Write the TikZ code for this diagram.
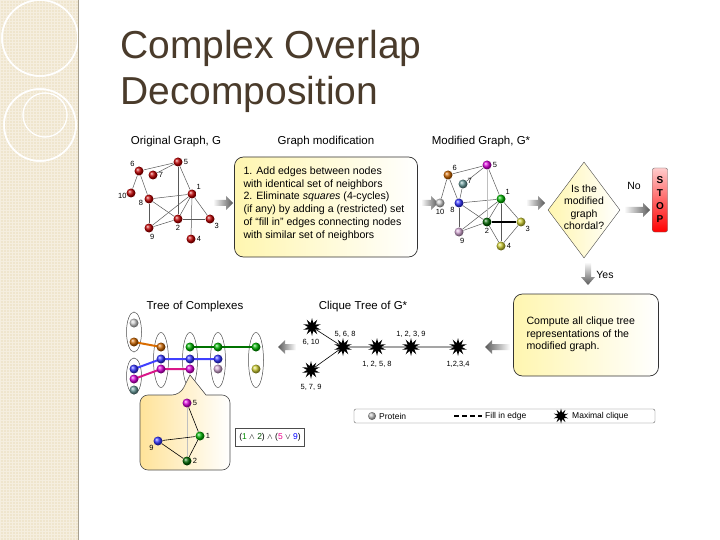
\documentclass[tikz,border=0pt]{standalone}
\usepackage{fontspec}
\setmainfont{Liberation Sans}
\usetikzlibrary{shapes.geometric,shapes.symbols,patterns}
\definecolor{titlec}{HTML}{4A3B2B}
\definecolor{stripc}{HTML}{EFE5CD}
\definecolor{boxy}{HTML}{FFF6B0}
\tikzset{
  pball/.style={circle,ball color=#1,minimum size=9pt,inner sep=0pt},
  rball/.style={pball=red!75!black},
  lab/.style={font=\fontsize{7.5}{7.5}\selectfont,inner sep=1pt},
  hd/.style={font=\fontsize{11.5}{12}\selectfont},
  txt/.style={font=\fontsize{10.6}{12.8}\selectfont,align=left},
  ge/.style={gray!70!black,line width=0.5pt},
  be/.style={black,line width=0.6pt},
  ybox/.style={draw=black!80,rounded corners=9pt,left color=boxy,right color=white,line width=0.7pt},
  clq/.style={star,star points=10,star point ratio=2.2,fill=black,minimum size=18pt,inner sep=0pt},
  elp/.style={ellipse,draw=black!70,minimum width=15pt,line width=0.5pt},
}
\newcommand{\garrowR}[3]{\shade[left color=white,right color=black!65] (#1,#2-3)--(#3-7,#2-3)--(#3-7,#2-7)--(#3,#2)--(#3-7,#2+7)--(#3-7,#2+3)--(#1,#2+3)--cycle;}
\newcommand{\garrowL}[3]{\shade[right color=white,left color=black!65] (#1,#2-3)--(#3+7,#2-3)--(#3+7,#2-7)--(#3,#2)--(#3+7,#2+7)--(#3+7,#2+3)--(#1,#2+3)--cycle;}
\begin{document}
\begin{tikzpicture}[x=1pt,y=-1pt]
\useasboundingbox (0,0) rectangle (720,540);
\fill[white] (0,0) rectangle (720,540);
% left strip
\fill[stripc] (0,0) rectangle (78,540);
\fill[pattern=grid,pattern color=white!35!stripc] (0,0) rectangle (78,540);
\begin{scope}
\clip (0,0) rectangle (78,540);
\draw[white,line width=1.5pt] (40,38) circle (38);
\draw[white,line width=1.5pt] (40,125) circle (36);
\draw[white,line width=1pt] (45,115) circle (22);
\end{scope}
\draw[white,line width=1.5pt] (40,38) circle (38);
\draw[white,line width=1.5pt] (40,125) circle (36);
\draw[white,line width=1pt] (45,115) circle (22);
\draw[stripc!70!black,line width=0.4pt] (78,0) -- (78,540);
% title
\node[anchor=base west,text=titlec,font=\fontsize{39}{42}\selectfont,inner sep=0] (t1) at (120,59) {Complex Overlap};
\node[anchor=base west,text=titlec,font=\fontsize{39}{42}\selectfont,inner sep=0] (t2) at (120,105) {Decomposition};
% headers
\node[hd] (h1) at (176,142) {Original Graph, G};
\node[hd] (h2) at (326,142) {Graph modification};
\node[hd] (h3) at (481,142) {Modified Graph, G*};
\node[hd] (h4) at (195,307) {Tree of Complexes};
\node[hd] (h5) at (363,307) {Clique Tree of G*};
% original graph
\node[rball] (o6) at (139,171) {};
\node[rball] (o5) at (178,162) {};
\node[rball] (o7) at (153,175) {};
\node[rball] (o10) at (131,193) {};
\node[rball] (o8) at (149,199) {};
\node[rball] (o1) at (192,194) {};
\node[rball] (o2) at (178,219) {};
\node[rball] (o3) at (210,219) {};
\node[rball] (o9) at (149,228) {};
\node[rball] (o4) at (191,239) {};
\foreach \a/\b in {o6/o5,o6/o10,o6/o8,o5/o7,o5/o1,o5/o2,o8/o1,o8/o2,o8/o9,o1/o2,o1/o3,o1/o9,o2/o3,o1/o4,o2/o9}
  \draw[ge] (\a) -- (\b);
\node[lab,above left] at (o6.north west) {6};
\node[lab,right] at (o5.east) {5};
\node[lab,right] at (o7.east) {7};
\node[lab,left] at (o10.south west) {10};
\node[lab,below left] at (o8.west) {8};
\node[lab,above right] at (o1.north east) {1};
\node[lab,below] at (o2.south) {2};
\node[lab,below right] at (o3.south east) {3};
\node[lab,below right] at (o9.south) {9};
\node[lab,right] at (o4.east) {4};
% box 1
\node[ybox,minimum width=183pt,minimum height=100pt] (b1) at (326,207) {};
\node[txt,anchor=north west] (b1t) at (240,163) {1. Add edges between nodes\\with identical set of neighbors\\2. Eliminate \textit{squares} (4-cycles)\\(if any) by adding a (restricted) set\\of ``fill in'' edges connecting nodes\\with similar set of neighbors};
\garrowR{213}{203}{233}
\garrowR{421}{203}{438}
% modified graph
\node[pball=orange!80!black] (m6) at (448,175) {};
\node[pball=magenta!85!black] (m5) at (487,165) {};
\node[pball=cyan!20!gray] (m7) at (463,184) {};
\node[pball=gray!40] (m10) at (440,203) {};
\node[pball=blue!80] (m8) at (459,203) {};
\node[pball=green!70!black] (m1) at (501,199) {};
\node[pball=green!40!black] (m2) at (487,222) {};
\node[pball=yellow!60!gray] (m3) at (521,222) {};
\node[pball=violet!35] (m9) at (459,232) {};
\node[pball=yellow!60!gray] (m4) at (501,246) {};
\foreach \a/\b in {m6/m5,m6/m10,m6/m8,m5/m7,m5/m1,m8/m1,m8/m2,m8/m9,m1/m2,m1/m3,m1/m9,m1/m4,m2/m9,m3/m4,m2/m4,m7/m8}
  \draw[ge] (\a) -- (\b);
\draw[gray!50,line width=0.4pt] (m5) -- (m2);
\draw[black,line width=1.1pt] (m2) -- (m3);
\node[lab,above right] at (m6.north east) {6};
\node[lab,right] at (m5.east) {5};
\node[lab,right] at (m7.north east) {7};
\node[lab,below] at (m10.south) {10};
\node[lab,below left] at (m8.south west) {8};
\node[lab,above right] at (m1.north east) {1};
\node[lab,below] at (m2.south) {2};
\node[lab,below right] at (m3.south east) {3};
\node[lab,below right] at (m9.south) {9};
\node[lab,right] at (m4.east) {4};
\garrowR{526}{203}{545}
% diamond
\node[diamond,draw=black!70,left color=boxy,right color=white,minimum width=72pt,minimum height=96pt,inner sep=0pt,aspect=0.75] (dia) at (584,210) {};
\node[font=\fontsize{10.5}{12.5}\selectfont,align=center] (diat) at (584,207) {Is the\\modified\\graph\\chordal?};
\garrowR{624}{210}{650}
\node[font=\fontsize{10.5}{10}\selectfont] (no) at (634,186) {No};
\node[draw=black!60,rounded corners=2pt,top color=white!80!red,bottom color=red,minimum width=15pt,minimum height=64pt,inner sep=0pt] (stop) at (660,200) {};
\node[font=\bfseries\fontsize{10}{13}\selectfont,align=center] at (stop) {S\\T\\O\\P};
% yes arrow
\shade[top color=white,bottom color=black!65] (585,262)--(591,262)--(591,277)--(595,277)--(588,285)--(581,277)--(585,277)--cycle;
\node[font=\fontsize{10.5}{10}\selectfont] (yes) at (605,275) {Yes};
% box 2
\node[ybox,minimum width=145pt,minimum height=82pt] (b2) at (586,335) {};
\node[txt,anchor=north west] (b2t) at (523,313) {Compute all clique tree\\representations of the\\modified graph.};
\garrowL{510}{347}{485}
% clique tree
\node[clq] (c1) at (312,327) {};
\node[clq] (c2) at (343,347) {};
\node[clq] (c3) at (377,347) {};
\node[clq] (c4) at (411,347) {};
\node[clq] (c5) at (458,347) {};
\node[clq] (c6) at (311,370) {};
\draw[be] (c1)--(c2) (c6)--(c2) (c2)--(c3) (c3)--(c4) (c4)--(c5);
\node[lab] at (311,342) {6, 10};
\node[lab] at (345,334) {5, 6, 8};
\node[lab] at (377,364) {1, 2, 5, 8};
\node[lab] at (411,334) {1, 2, 3, 9};
\node[lab] at (458,364) {1,2,3,4};
\node[lab] at (311,387) {5, 7, 9};
\garrowL{296}{347}{278}
% legend
\node[draw=black!60,rounded corners=2pt,minimum width=301pt,minimum height=14pt] (leg) at (504.5,416) {};
\node[pball=gray!50,minimum size=8pt] (lp) at (372,416) {};
\node[lab,font=\fontsize{8.5}{8.5}\selectfont,right] at (378,416) {Protein};
\draw[black,line width=1.3pt,dash pattern=on 5pt off 3pt] (454,416) -- (482,416);
\node[lab,font=\fontsize{8.5}{8.5}\selectfont,right] at (484,416) {Fill in edge};
\node[clq,minimum size=15pt] (ls) at (561,416) {};
\node[lab,font=\fontsize{8.5}{8.5}\selectfont,right] at (571,416) {Maximal clique};
% tree of complexes
\node[elp,minimum height=40pt] (e1) at (134,332) {};
\node[elp,minimum height=36pt] (e2) at (134,376) {};
\node[elp,minimum height=55pt] (e3) at (161,360) {};
\node[elp,minimum height=55pt] (e4) at (190,360) {};
\node[elp,minimum height=55pt] (e5) at (218,360) {};
\node[elp,minimum height=55pt] (e6) at (256,360) {};
\draw[orange!85!black,line width=2pt] (134,342) -- (161,347);
\draw[blue!75,line width=2pt] (134,369) -- (161,359) -- (218,359);
\draw[magenta!90!black,line width=2pt] (134,379) -- (161,369) -- (190,369);
\draw[green!45!black,line width=2pt] (190,347) -- (256,347);
\node[pball=gray!40] at (134,323) {};
\node[pball=orange!80!black] at (134,342) {};
\node[pball=blue!80] at (134,369) {};
\node[pball=magenta!85!black] at (134,379) {};
\node[pball=cyan!20!gray] at (134,390) {};
\node[pball=orange!80!black] at (161,347) {};
\node[pball=blue!80] at (161,359) {};
\node[pball=magenta!85!black] at (161,369) {};
\node[pball=green!70!black] at (190,347) {};
\node[pball=blue!80] at (190,359) {};
\node[pball=magenta!85!black] at (190,369) {};
\node[pball=green!70!black] at (218,347) {};
\node[pball=blue!80] at (218,359) {};
\node[pball=violet!35] at (218,369) {};
\node[pball=green!70!black] at (256,347) {};
\node[pball=yellow!60!gray] at (256,369) {};
% callout
\shade[left color=yellow!45!orange!40,right color=white,draw=black!70,rounded corners=8pt,line width=0.6pt]
  (150,395) -- (180,395) [sharp corners]-- (190,375) -- (206,395) [rounded corners=8pt]-- (230,395) -- (230,470) -- (140,470) -- (140,395) -- (150,395);
\node[pball=magenta!85!black] (s5) at (187,403) {};
\node[pball=green!70!black] (s1) at (200,436) {};
\node[pball=blue!80] (s9) at (158,441) {};
\node[pball=green!40!black] (s2) at (187,461) {};
\draw[gray!50,line width=0.4pt] (s5) -- (s2);
\draw[be] (s5)--(s1) (s9)--(s1) (s9)--(s2) (s1)--(s2);
\node[lab,right] at (s5.east) {5};
\node[lab,right] at (s1.east) {1};
\node[lab,below left] at (s9.south west) {9};
\node[lab,right] at (s2.east) {2};
\node[draw=black!70,minimum width=69pt,minimum height=18pt,inner sep=1pt,font=\fontsize{8.5}{9}\selectfont] (form) at (270,437) {(\textcolor{green!55!black}{1} $\wedge$ \textcolor{green!30!black}{2}) $\wedge$ (\textcolor{magenta}{5} $\vee$ \textcolor{blue}{9})};
\end{tikzpicture}
\end{document}
